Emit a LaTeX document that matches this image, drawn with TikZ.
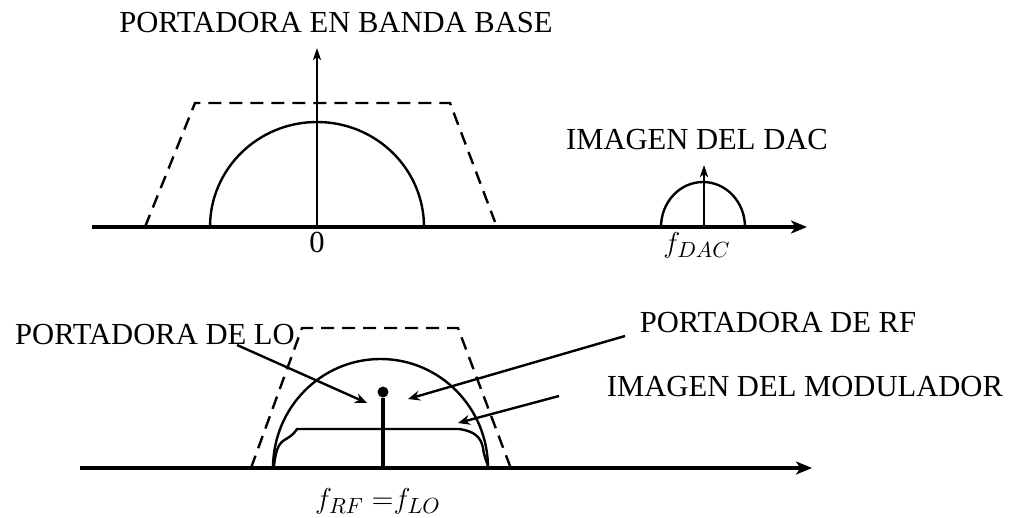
\documentclass[tikz,border=0pt]{standalone}
\usepackage{fontspec}
\setmainfont{Liberation Serif}
\usetikzlibrary{arrows.meta}
\tikzset{
  freq axis/.style={line width=2pt,-{Stealth[length=8pt,width=6.5pt,inset=2.2pt]}},
  spec line/.style={line width=1.2pt},
  mask line/.style={line width=1.2pt,dash pattern=on 6.5pt off 4pt},
  carrier/.style={line width=1.2pt,-{Stealth[length=6pt,width=4pt,inset=1.5pt]}},
  note arrow/.style={line width=1.2pt,-{Stealth[length=6pt,width=5pt,inset=2pt]}},
  tag/.style={font=\fontsize{15.3}{18}\selectfont,inner sep=0pt,anchor=base},
  dot/.style={circle,fill,inner sep=0pt,minimum size=5.5pt},
}
\begin{document}
\begin{tikzpicture}[x=0.5pt,y=-0.5pt]
  \useasboundingbox (0,0) rectangle (1016,518);
  % upper spectrum: baseband and DAC image
  \coordinate (ax0) at (92,227);
  \coordinate (ax1) at (807,227);
  \coordinate (zero) at (317,227);
  \coordinate (bbtop) at (317,48);
  \coordinate (dac) at (704,227);
  \coordinate (dactop) at (704,165);
  \draw[mask line] (145,227) -- (195,103) -- (450,103) -- (495,222);
  \draw[spec line] (210,227) arc[start angle=180,end angle=360,x radius=107,y radius=105];
  \draw[spec line] (661,227) arc[start angle=180,end angle=360,x radius=42,y radius=45];
  \draw[freq axis] (ax0) -- (ax1);
  \draw[carrier] (zero) -- (bbtop);
  \draw[carrier] (dac) -- (dactop);
  \node[tag] (bblab) at (336,33) {PORTADORA EN BANDA BASE};
  \node[tag] (daclab) at (697,150) {IMAGEN DEL DAC};
  \node[tag] (zerolab) at (317,252) {0};
  \node[tag] (fdac) at (697,252) {$f_{DAC}$};
  % lower spectrum: RF
  \coordinate (bx0) at (80,468);
  \coordinate (bx1) at (812,468);
  \coordinate (rf) at (383,468);
  \draw[mask line] (251,468) -- (302,328) -- (458,328) -- (513,474);
  \draw[spec line] (273,468) arc[start angle=180,end angle=360,x radius=107.5,y radius=109];
  \draw[spec line] (274,466) .. controls (276,448) and (279,443) .. (286,439)
    .. controls (293,435) and (295,432) .. (297,429) -- (459,429)
    .. controls (474,431) and (481,437) .. (483,448) .. controls (484,456) and (486,460) .. (488,466);
  \draw[freq axis] (bx0) -- (bx1);
  \node[dot] (lo) at (383,392) {};
  \draw[line width=2pt] (rf) -- (lo);
  \node[tag] (lolab) at (155,344) {PORTADORA DE LO};
  \node[tag] (rflab) at (778,332) {PORTADORA DE RF};
  \node[tag] (modlab) at (805,396) {IMAGEN DEL MODULADOR};
  \node[tag] (frf) at (378,508) {$f_{RF}\ {=}f_{LO}$};
  \coordinate (lotail) at (237,345);
  \coordinate (lohead) at (367,403);
  \coordinate (rftail) at (625,336);
  \coordinate (rfhead) at (408,399);
  \coordinate (modtail) at (559,396);
  \coordinate (modhead) at (458,423);
  \draw[note arrow] (lotail) -- (lohead);
  \draw[note arrow] (rftail) -- (rfhead);
  \draw[note arrow] (modtail) -- (modhead);
\end{tikzpicture}
\end{document}
